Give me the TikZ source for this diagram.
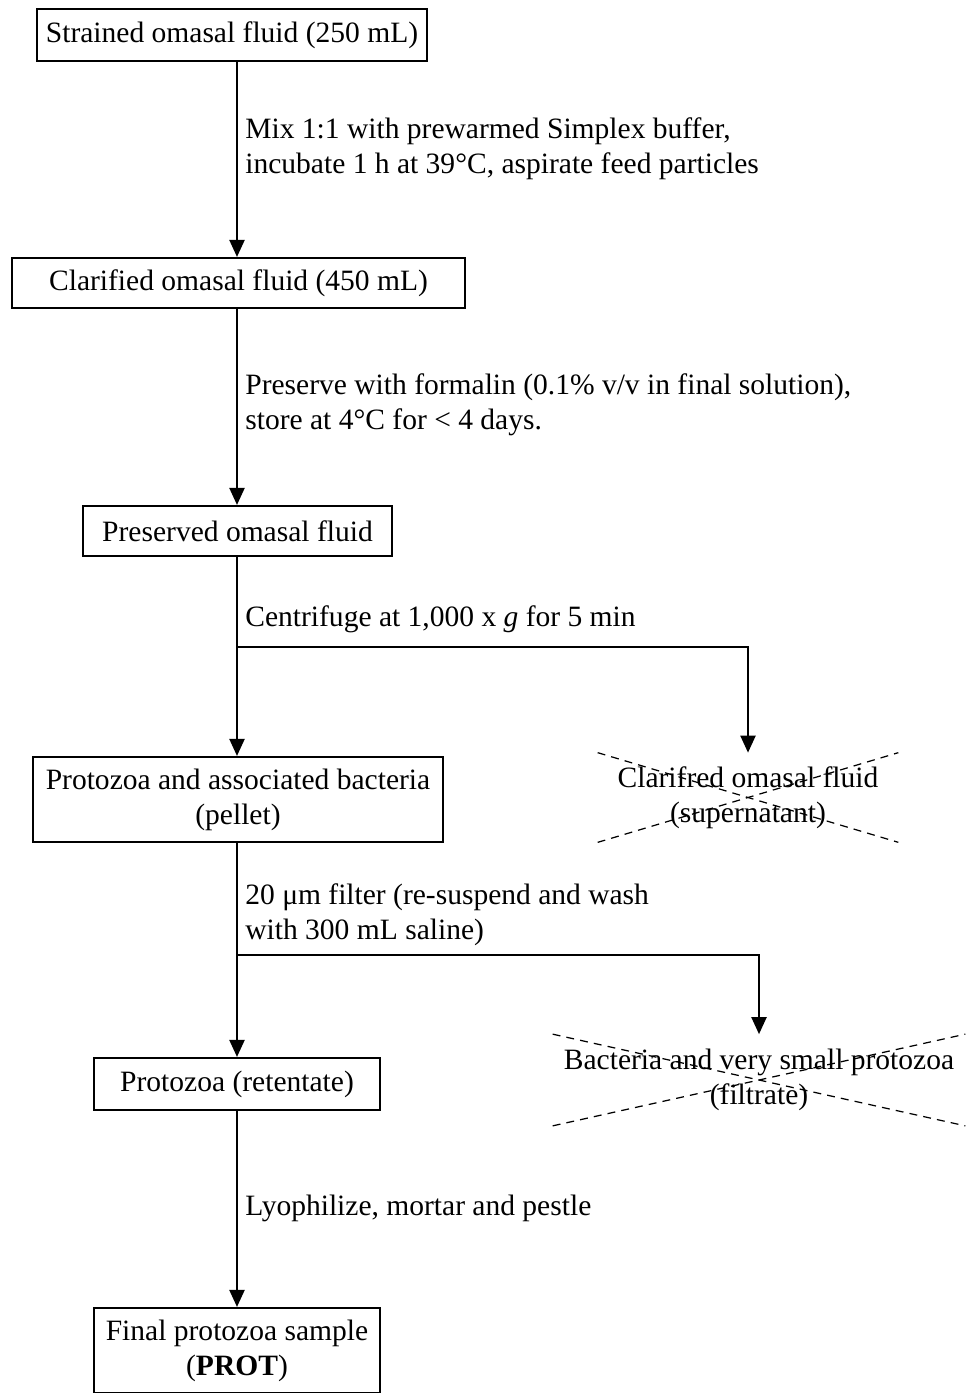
\documentclass[tikz,border=0pt]{standalone}
\usepackage{fontspec}
\setmainfont{Liberation Serif}
\usetikzlibrary{arrows.meta}

\tikzset{
  stage/.style={draw, line width=1.2pt, inner sep=0pt, align=center},
  note/.style={anchor=west, inner sep=0pt, align=left},
  discard/.style={inner sep=0pt, align=center},
  flow/.style={line width=1.2pt, -{Triangle[length=0.34cm, width=0.3cm]}},
  cross/.style={dash pattern=on 4.5pt off 3.5pt, line width=0.7pt}
}

\begin{document}
\begin{tikzpicture}[font=\fontsize{16.8}{19.8}\selectfont]
  \useasboundingbox (0, 0) rectangle (19.32, -27.86);

  % main column
  \node[stage, minimum width=7.8cm, minimum height=1.04cm] (strained) at (4.64, -0.7) {Strained omasal fluid (250 mL)};
  \node[stage, minimum width=9.06cm, minimum height=1.0cm] (clarified) at (4.77, -5.66) {Clarified omasal fluid (450 mL)};
  \node[stage, minimum width=6.18cm, minimum height=1.0cm] (preserved) at (4.75, -10.62) {Preserved omasal fluid};
  \node[stage, minimum width=8.2cm, minimum height=1.7cm] (pellet) at (4.76, -15.99) {Protozoa and associated bacteria\\(pellet)};
  \node[stage, minimum width=5.72cm, minimum height=1.04cm] (retentate) at (4.74, -21.68) {Protozoa (retentate)};
  \node[stage, minimum width=5.72cm, minimum height=1.7cm] (prot) at (4.74, -27.01) {Final protozoa sample\\(\textbf{PROT})};

  % discarded fractions
  \node[discard, minimum width=6cm, minimum height=1.78cm] (super) at (14.96, -15.95) {Clarifred omasal fluid\\(supernatant)};
  \node[discard, minimum width=8.24cm, minimum height=1.82cm] (filtrate) at (15.18, -21.6) {Bacteria and very small protozoa\\(filtrate)};

  % step notes
  \node[note] (mix) at (4.9, -2.98) {Mix 1:1 with prewarmed Simplex buffer,\\incubate 1 h at 39°C, aspirate feed particles};
  \node[note] (formalin) at (4.9, -8.09) {Preserve with formalin (0.1\% v/v in final solution),\\store at 4°C for < 4 days.};
  \node[note] (spin) at (4.9, -12.39) {Centrifuge at 1,000 x \textit{g} for 5 min};
  \node[note] (filter) at (4.9, -18.3) {20 μm filter (re-suspend and wash\\with 300 mL saline)};
  \node[note] (lyo) at (4.9, -24.17) {Lyophilize, mortar and pestle};

  \coordinate (spine) at (4.74, 0);
  \coordinate (split1) at (4.74, -12.94);
  \coordinate (split2) at (4.74, -19.1);

  \draw[flow] (strained.south -| spine) -- (clarified.north -| spine);
  \draw[flow] (clarified.south -| spine) -- (preserved.north -| spine);
  \draw[flow] (preserved.south -| spine) -- (pellet.north -| spine);
  \draw[flow] (pellet.south -| spine) -- (retentate.north -| spine);
  \draw[flow] (retentate.south -| spine) -- (prot.north -| spine);

  \draw[flow] (split1) -| (super.north);
  \draw[flow] (split2) -| (filtrate.north);

  \draw[cross] (super.north west) -- (super.south east);
  \draw[cross] (super.south west) -- (super.north east);
  \draw[cross] (filtrate.north west) -- (filtrate.south east);
  \draw[cross] (filtrate.south west) -- (filtrate.north east);
\end{tikzpicture}
\end{document}
